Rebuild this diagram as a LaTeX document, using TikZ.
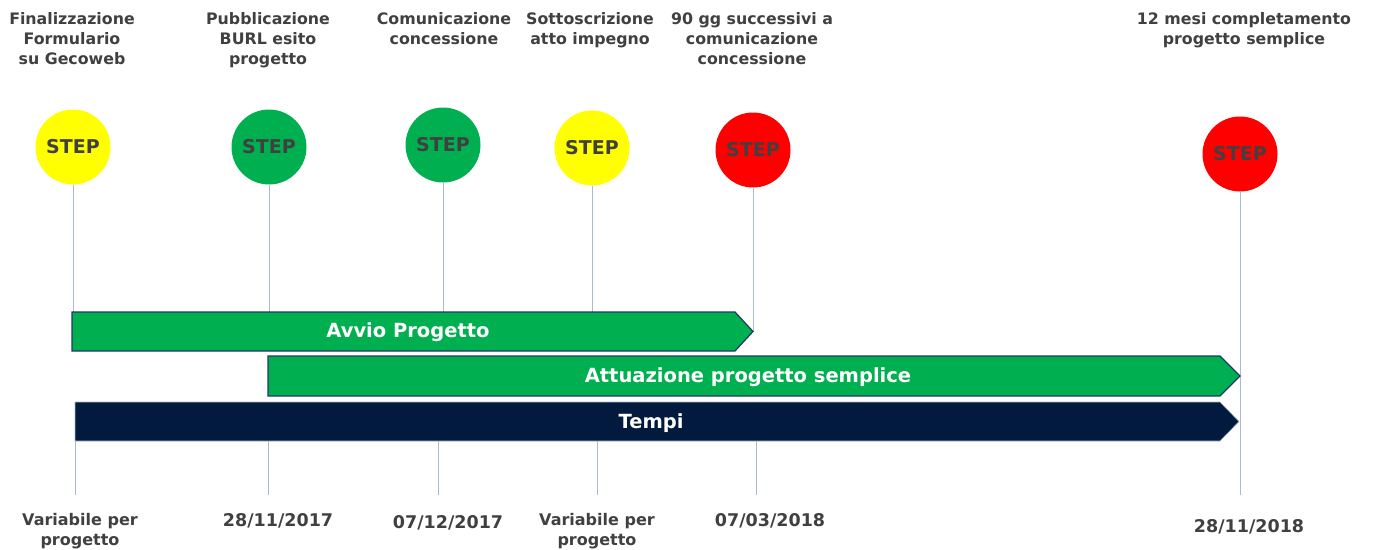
\documentclass[tikz,border=0pt]{standalone}
\usepackage{fontspec}
\setmainfont{DejaVu Sans}
\usetikzlibrary{positioning}
\definecolor{stepyellow}{HTML}{FFFF00}
\definecolor{stepgreen}{HTML}{00B050}
\definecolor{stepred}{HTML}{FF0000}
\definecolor{barnavy}{HTML}{021A3D}
\definecolor{barline}{HTML}{1F3864}
\definecolor{tickline}{HTML}{A9BAD1}
\definecolor{labelgray}{HTML}{404040}
\tikzset{
  stepdot/.style={circle,minimum size=75pt,inner sep=0pt,text=labelgray,
    font=\bfseries\fontsize{19}{22}\selectfont},
  toplabel/.style={anchor=north,inner sep=0pt,align=center,text=labelgray,
    font=\bfseries\fontsize{15.8}{20}\selectfont},
  datelabel/.style={anchor=north,inner sep=0pt,align=center,text=labelgray,
    font=\bfseries\fontsize{16}{20}\selectfont},
  datetext/.style={datelabel,font=\bfseries\fontsize{17.5}{20}\selectfont},
  bartext/.style={inner sep=0pt,text=white,font=\bfseries\fontsize{19.5}{22}\selectfont},
  tick/.style={draw=tickline,line width=1pt}
}
\begin{document}
\begin{tikzpicture}[x=1pt,y=-1pt]
\useasboundingbox (0,0) rectangle (1373,549);

\node[toplabel] (l1) at (72,12) {Finalizzazione\\Formulario\\su Gecoweb};
\node[toplabel] (l2) at (268,12) {Pubblicazione\\BURL esito\\progetto};
\node[toplabel] (l3) at (444,12) {Comunicazione\\concessione};
\node[toplabel] (l4) at (590,12) {Sottoscrizione\\atto impegno};
\node[toplabel] (l5) at (752,12) {90 gg successivi a\\comunicazione\\concessione};
\node[toplabel] (l6) at (1244,12) {12 mesi completamento\\progetto semplice};

\node[stepdot,fill=stepyellow] (s1) at (73,147) {STEP};
\node[stepdot,fill=stepgreen] (s2) at (269,147) {STEP};
\node[stepdot,fill=stepgreen] (s3) at (443,145) {STEP};
\node[stepdot,fill=stepyellow] (s4) at (592,148) {STEP};
\node[stepdot,fill=stepred] (s5) at (753,150) {STEP};
\node[stepdot,fill=stepred] (s6) at (1240,154) {STEP};

\coordinate (e1) at (73,312);
\coordinate (e2) at (269,312);
\coordinate (e3) at (443,312);
\coordinate (e4) at (592,312);
\coordinate (e5) at (753,331);
\coordinate (e6) at (1240,495);
\foreach \i in {1,...,6}
  \draw[tick] (s\i.south) -- (e\i);

\draw[barline,fill=stepgreen,line width=1.2pt] (72,312) -- (735,312) -- (753,331.5) -- (735,351) -- (72,351) -- cycle;
\node[bartext] (avvio) at (408,332) {Avvio Progetto};
\draw[barline,fill=stepgreen,line width=1.2pt] (268,356) -- (1220,356) -- (1240,376) -- (1220,396) -- (268,396) -- cycle;
\node[bartext] (attuazione) at (748,377) {Attuazione progetto semplice};
\draw[tickline,fill=barnavy,line width=0.6pt] (75,402) -- (1220,402) -- (1239,421.5) -- (1220,441) -- (75,441) -- cycle;
\node[bartext] (tempi) at (651,423) {Tempi};

\node[datelabel] (d1) at (80,513) {Variabile per\\progetto};
\node[datetext] (d2) at (278,513) {28/11/2017};
\node[datetext] (d3) at (448,515) {07/12/2017};
\node[datelabel] (d4) at (597,513) {Variabile per\\progetto};
\node[datetext] (d5) at (770,513) {07/03/2018};
\node[datetext] (d6) at (1249,519) {28/11/2018};

\foreach \x in {75,268,438,597,756}
  \draw[tick] (\x,441) -- (\x,495);
\end{tikzpicture}
\end{document}
